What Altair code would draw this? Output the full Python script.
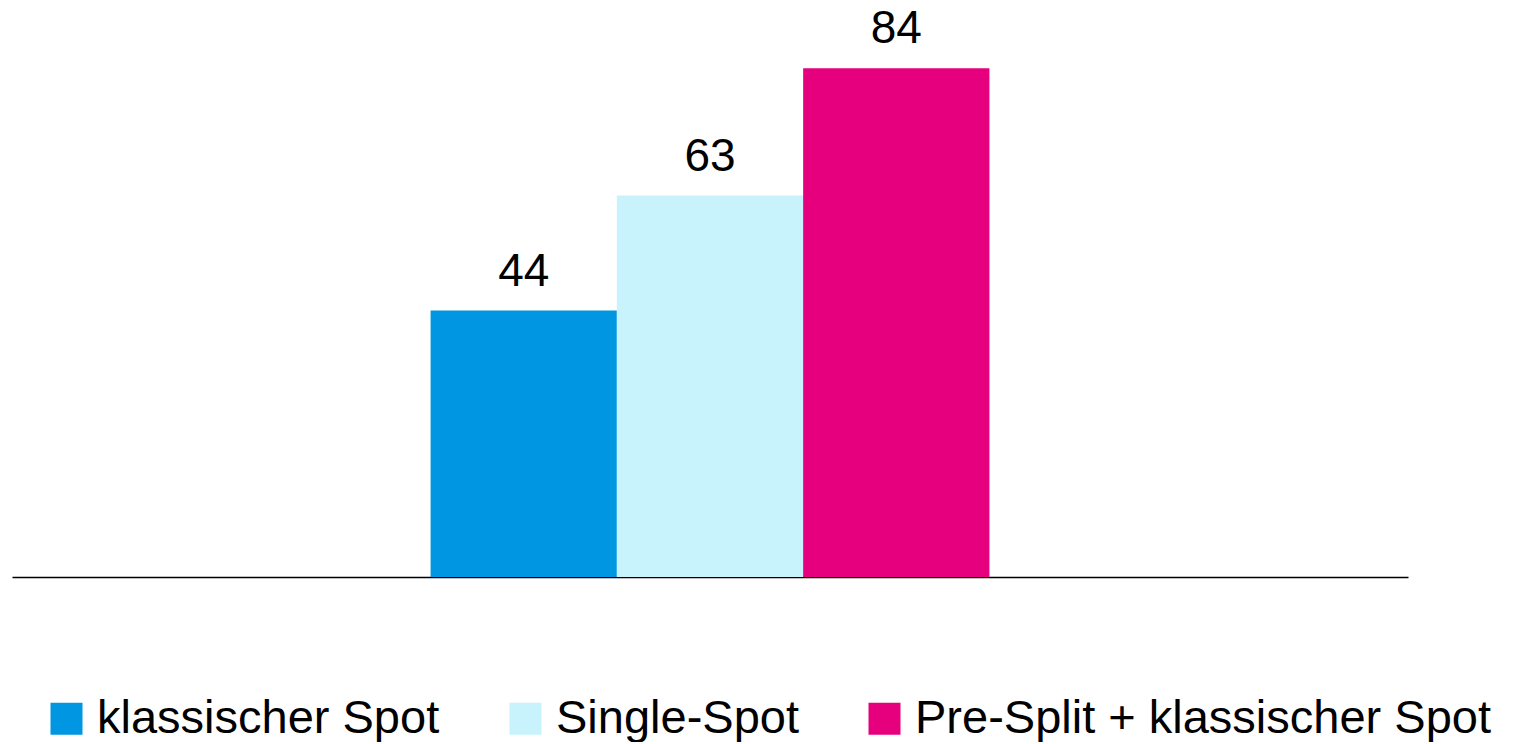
import altair as alt
import pandas as pd

series = ["klassischer Spot", "Single-Spot", "Pre-Split + klassischer Spot"]
values = [44, 63, 84]
colors = ["#0096E1", "#C8F2FC", "#E6007E"]
group = ["", "", ""]

df = pd.DataFrame({"group": group, "series": series, "value": values})

FONT = "Liberation Sans"

x_enc = alt.X(
    "group:N",
    scale=alt.Scale(paddingInner=0, paddingOuter=0.749),
    axis=alt.Axis(labels=False, ticks=False, title=None, domain=True,
                  domainColor="#000000", domainWidth=1.5, grid=False),
)
xo_enc = alt.XOffset("series:N", sort=series, scale=alt.Scale(paddingInner=0, paddingOuter=0))
y_enc = alt.Y("value:Q", scale=alt.Scale(domain=[0, 90], nice=False), axis=None)

bars = alt.Chart(df).mark_bar().encode(
    x=x_enc,
    xOffset=xo_enc,
    y=y_enc,
    color=alt.Color(
        "series:N",
        sort=series,
        scale=alt.Scale(domain=series, range=colors),
        legend=alt.Legend(
            title=None,
            orient="none",
            direction="horizontal",
            legendX=31,
            legendY=663,
            padding=0,
            symbolType="square",
            symbolSize=1024,
            symbolStrokeWidth=0,
            symbolOpacity=1,
            labelFont=FONT,
            labelFontSize=47,
            labelColor="#000000",
            labelOffset=7,
            columnPadding=62,
            labelLimit=1000,
        ),
    ),
)

labels = alt.Chart(df).mark_text(
    font=FONT, fontSize=46, color="#000000", baseline="alphabetic", dy=-25
).encode(
    x=x_enc,
    xOffset=xo_enc,
    y=y_enc,
    text=alt.Text("value:Q"),
)

chart = (
    alt.layer(bars, labels)
    .properties(
        width=1396,
        height=545,
        background="#ffffff",
        autosize=alt.AutoSizeParams(type="none"),
        padding={"left": 4, "top": 24, "right": 100, "bottom": 165},
    )
    .configure_view(strokeWidth=0, stroke=None)
)

chart.save("out.html", embed_options={"renderer": "svg", "actions": False})
